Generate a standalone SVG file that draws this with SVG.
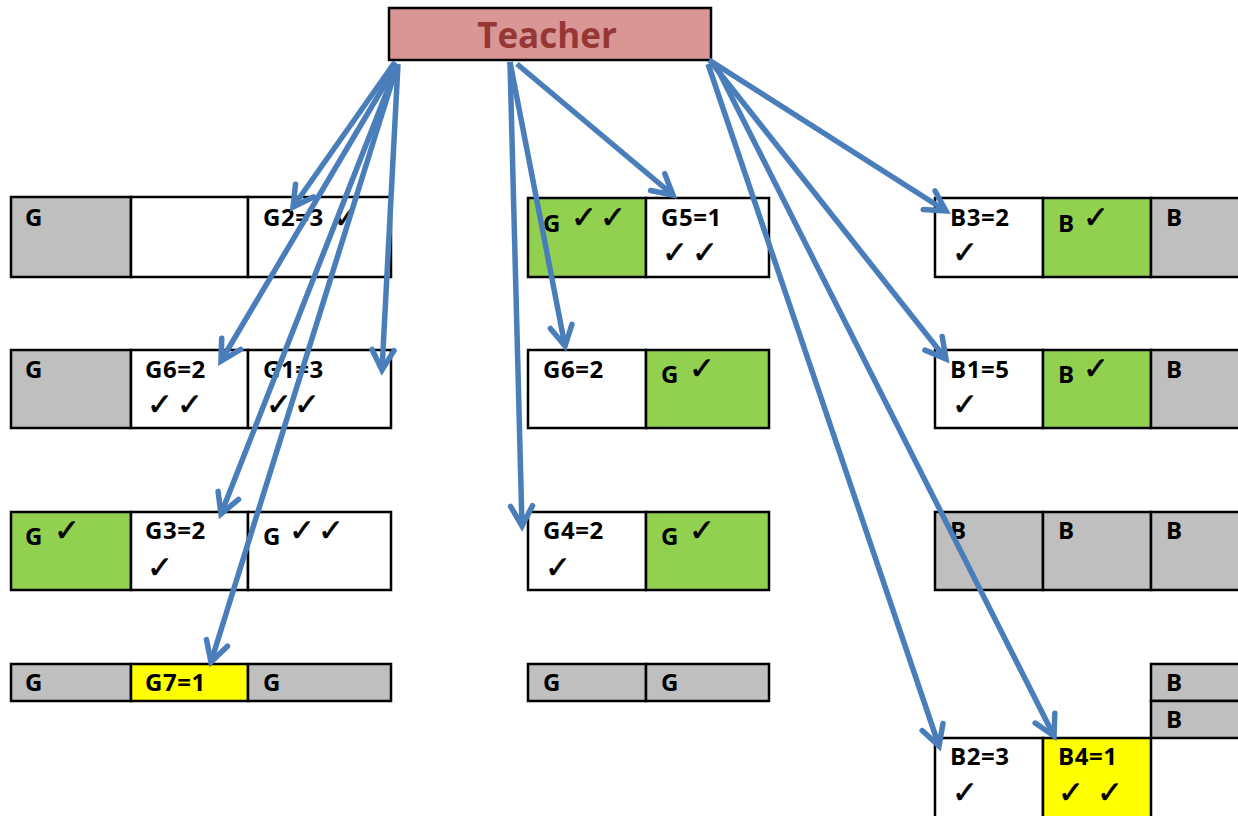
<svg xmlns="http://www.w3.org/2000/svg" width="1238" height="816" viewBox="0 0 1238 816">
<style>
.c{stroke:#000;stroke-width:2.5}
.w{fill:#fff}.g{fill:#BFBFBF}.gr{fill:#92D050}.y{fill:#FFFF00}
.t{font-family:"Open Sans","Liberation Sans",sans-serif;font-weight:bold;font-size:24px;fill:#000;letter-spacing:0.6px}
.k{font-family:"DejaVu Sans",sans-serif;font-size:31px;fill:#000;stroke:#000;stroke-width:0.6px}
.a{stroke:#4A7EBB;stroke-width:5.5;fill:none;marker-end:url(#ah)}
</style>
<defs>
<marker id="ah" markerUnits="userSpaceOnUse" markerWidth="40" markerHeight="40" viewBox="-30 -20 40 40" refX="0" refY="0" orient="auto" overflow="visible">
<path d="M-20,-11 L0,0 L-20,11" fill="none" stroke="#4A7EBB" stroke-width="5.5" stroke-linecap="round" stroke-linejoin="miter"/>
</marker>
</defs>
<rect width="1238" height="816" fill="#fff"/>
<g id="teacher">
<rect x="389" y="8" width="322" height="52" fill="#D99694" stroke="#000" stroke-width="2.5"/>
<text x="547" y="48" text-anchor="middle" font-family="Open Sans, Liberation Sans, sans-serif" font-weight="bold" font-size="35" fill="#953735">Teacher</text>
</g>
<!-- Left row 1 -->
<g id="L1a"><rect class="c g" x="11" y="197" width="120" height="80"/><text class="t" x="25" y="226">G</text></g>
<g id="L1b"><rect class="c w" x="131" y="197" width="117" height="80"/></g>
<g id="L1c"><rect class="c w" x="248" y="197" width="143" height="80"/><text class="t" x="263" y="226">G2=3</text><text class="k" x="333" y="228">✓</text></g>
<!-- Left row 2 -->
<g id="L2a"><rect class="c g" x="11" y="350" width="120" height="78"/><text class="t" x="25" y="378">G</text></g>
<g id="L2b"><rect class="c w" x="131" y="350" width="117" height="78"/><text class="t" x="145" y="378">G6=2</text><text class="k" x="147" y="415">✓</text><text class="k" x="177" y="415">✓</text></g>
<g id="L2c"><rect class="c w" x="248" y="350" width="143" height="78"/><text class="t" x="263" y="378">G1=3</text><text class="k" x="266" y="415">✓</text><text class="k" x="294" y="415">✓</text></g>
<!-- Left row 3 -->
<g id="L3a"><rect class="c gr" x="11" y="512" width="120" height="78"/><text class="t" x="25" y="545">G</text><text class="k" x="54" y="541">✓</text></g>
<g id="L3b"><rect class="c w" x="131" y="512" width="117" height="78"/><text class="t" x="145" y="539">G3=2</text><text class="k" x="147" y="578">✓</text></g>
<g id="L3c"><rect class="c w" x="248" y="512" width="143" height="78"/><text class="t" x="263" y="545">G</text><text class="k" x="289" y="541">✓</text><text class="k" x="318" y="541">✓</text></g>
<!-- Left row 4 -->
<g id="L4a"><rect class="c g" x="11" y="664" width="120" height="37"/><text class="t" x="25" y="691">G</text></g>
<g id="L4b"><rect class="c y" x="131" y="664" width="117" height="37"/><text class="t" x="145" y="691">G7=1</text></g>
<g id="L4c"><rect class="c g" x="248" y="664" width="143" height="37"/><text class="t" x="263" y="691">G</text></g>
<!-- Middle -->
<g id="M1a"><rect class="c gr" x="528" y="198" width="118" height="79"/><text class="t" x="543" y="232">G</text><text class="k" x="571" y="228">✓</text><text class="k" x="600" y="228">✓</text></g>
<g id="M1b"><rect class="c w" x="646" y="198" width="123" height="79"/><text class="t" x="661" y="226">G5=1</text><text class="k" x="662" y="263">✓</text><text class="k" x="692" y="263">✓</text></g>
<g id="M2a"><rect class="c w" x="528" y="350" width="118" height="78"/><text class="t" x="543" y="378">G6=2</text></g>
<g id="M2b"><rect class="c gr" x="646" y="350" width="123" height="78"/><text class="t" x="661" y="383">G</text><text class="k" x="689" y="379">✓</text></g>
<g id="M3a"><rect class="c w" x="528" y="512" width="118" height="78"/><text class="t" x="543" y="539">G4=2</text><text class="k" x="545" y="578">✓</text></g>
<g id="M3b"><rect class="c gr" x="646" y="512" width="123" height="78"/><text class="t" x="661" y="545">G</text><text class="k" x="689" y="541">✓</text></g>
<g id="M4a"><rect class="c g" x="528" y="664" width="118" height="37"/><text class="t" x="543" y="691">G</text></g>
<g id="M4b"><rect class="c g" x="646" y="664" width="123" height="37"/><text class="t" x="661" y="691">G</text></g>
<!-- Right -->
<g id="R1a"><rect class="c w" x="935" y="198" width="108" height="79"/><text class="t" x="950" y="226">B3=2</text><text class="k" x="952" y="263">✓</text></g>
<g id="R1b"><rect class="c gr" x="1043" y="198" width="108" height="79"/><text class="t" x="1058" y="232">B</text><text class="k" x="1083" y="228">✓</text></g>
<g id="R1c"><rect class="c g" x="1151" y="198" width="92" height="79"/><text class="t" x="1166" y="226">B</text></g>
<g id="R2a"><rect class="c w" x="935" y="350" width="108" height="78"/><text class="t" x="950" y="378">B1=5</text><text class="k" x="952" y="415">✓</text></g>
<g id="R2b"><rect class="c gr" x="1043" y="350" width="108" height="78"/><text class="t" x="1058" y="383">B</text><text class="k" x="1083" y="379">✓</text></g>
<g id="R2c"><rect class="c g" x="1151" y="350" width="92" height="78"/><text class="t" x="1166" y="378">B</text></g>
<g id="R3a"><rect class="c g" x="935" y="512" width="108" height="78"/><text class="t" x="950" y="539">B</text></g>
<g id="R3b"><rect class="c g" x="1043" y="512" width="108" height="78"/><text class="t" x="1058" y="539">B</text></g>
<g id="R3c"><rect class="c g" x="1151" y="512" width="92" height="78"/><text class="t" x="1166" y="539">B</text></g>
<g id="R4a"><rect class="c g" x="1151" y="664" width="92" height="37"/><text class="t" x="1166" y="691">B</text></g>
<g id="R4b"><rect class="c g" x="1151" y="701" width="92" height="37"/><text class="t" x="1166" y="728">B</text></g>
<g id="R5a"><rect class="c w" x="935" y="738" width="108" height="84"/><text class="t" x="950" y="765">B2=3</text><text class="k" x="952" y="803">✓</text></g>
<g id="R5b"><rect class="c y" x="1043" y="738" width="108" height="84"/><text class="t" x="1058" y="765">B4=1</text><text class="k" x="1058" y="803">✓</text><text class="k" x="1097" y="803">✓</text></g>
<g id="connectors">
<line class="a" x1="395" y1="62" x2="293" y2="207"/>
<line class="a" x1="397" y1="64" x2="221" y2="361"/>
<line class="a" x1="398" y1="64" x2="382" y2="370"/>
<line class="a" x1="397" y1="66" x2="221" y2="514"/>
<line class="a" x1="397" y1="66" x2="211" y2="662"/>
<line class="a" x1="510" y1="62" x2="565" y2="346"/>
<line class="a" x1="517" y1="64" x2="673" y2="195"/>
<line class="a" x1="510" y1="62" x2="522" y2="526"/>
<line class="a" x1="709" y1="60" x2="946" y2="211"/>
<line class="a" x1="711" y1="62" x2="946" y2="359"/>
<line class="a" x1="708" y1="64" x2="939" y2="746"/>
<line class="a" x1="715" y1="64" x2="1054" y2="736"/>
</g>
</svg>
